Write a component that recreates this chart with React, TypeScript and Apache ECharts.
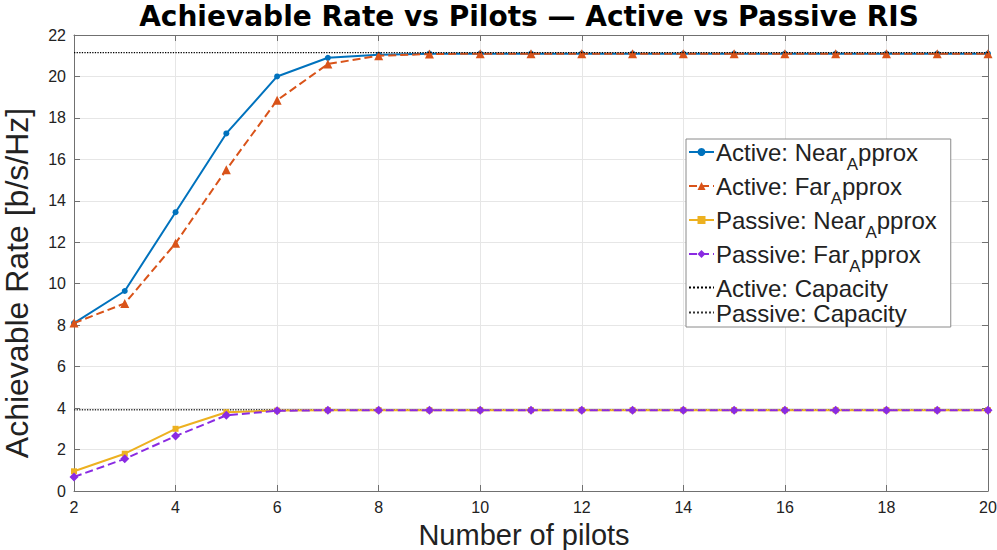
import React, { useEffect, useRef } from "react";
import * as echarts from "echarts";

const pilots = [2, 3, 4, 5, 6, 7, 8, 9, 10, 11, 12, 13, 14, 15, 16, 17, 18, 19, 20];
const activeNear = [8.1, 9.65, 13.45, 17.25, 20.0, 20.9, 21.05, 21.1, 21.1, 21.1, 21.1, 21.1, 21.1, 21.1, 21.1, 21.1, 21.1, 21.1, 21.1];
const activeFar = [8.1, 9.05, 11.95, 15.5, 18.85, 20.6, 21.0, 21.08, 21.1, 21.1, 21.1, 21.1, 21.1, 21.1, 21.1, 21.1, 21.1, 21.1, 21.1];
const passiveNear = [0.95, 1.8, 3.0, 3.8, 3.88, 3.9, 3.9, 3.9, 3.9, 3.9, 3.9, 3.9, 3.9, 3.9, 3.9, 3.9, 3.9, 3.9, 3.9];
const passiveFar = [0.68, 1.55, 2.65, 3.65, 3.87, 3.9, 3.9, 3.9, 3.9, 3.9, 3.9, 3.9, 3.9, 3.9, 3.9, 3.9, 3.9, 3.9, 3.9];
const activeCapacity = 21.15;
const passiveCapacity = 3.92;
const capX = [2, 20];

const FONT = "Liberation Sans";

export default function App() {
  const ref = useRef<HTMLDivElement>(null);
  useEffect(() => {
    const chart = echarts.init(ref.current!, undefined, { renderer: "svg" });
    const pair = (ys: number[]) => pilots.map((x, i) => [x, ys[i]]);
    const axisColor = "#707070";
    const baseX = {
      type: "value",
      min: 2,
      max: 20,
      interval: 2,
      axisLine: { show: true, onZero: false, lineStyle: { color: axisColor, width: 1 } },
      axisTick: { show: true, inside: true, length: 6, lineStyle: { color: axisColor } },
      splitLine: { show: false },
    };
    const baseY = {
      type: "value",
      min: 0,
      max: 22,
      interval: 2,
      axisLine: { show: true, onZero: false, lineStyle: { color: axisColor, width: 1 } },
      axisTick: { show: true, inside: true, length: 6, lineStyle: { color: axisColor } },
      splitLine: { show: false },
    };
    const option: any = {
      animation: false,
      backgroundColor: "#fff",
      textStyle: { fontFamily: FONT },
      title: {
        text: "Achievable Rate vs Pilots — Active vs Passive RIS",
        left: 529,
        textAlign: "center",
        top: 1,
        padding: 0,
        textStyle: { fontFamily: "DejaVu Sans", fontSize: 28, lineHeight: 30, fontWeight: "bold", color: "#000" },
      },
      grid: { left: 74, right: 9, top: 35, bottom: 59, outerBoundsMode: "none", containLabel: false },
      legend: {
        orient: "vertical",
        left: 686,
        top: 139,
        backgroundColor: "#fff",
        borderColor: "#8a8a8a",
        borderWidth: 1,
        borderRadius: 0,
        padding: [1, 14, 2, 2],
        itemGap: 1,
        itemWidth: 25,
        itemHeight: 10,
        data: [
          { name: "Active: Near_Approx" },
          { name: "Active: Far_Approx" },
          { name: "Passive: Near_Approx" },
          { name: "Passive: Far_Approx" },
          { name: "Active: Capacity", itemStyle: { opacity: 0 } },
          { name: "Passive: Capacity", itemStyle: { opacity: 0 } },
        ],
        formatter: (name: string) => {
          if (name.indexOf("_A") >= 0) {
            const [a, b] = name.split("_A");
            return "{n|" + a + "}{s|A}{n|" + b + "}";
          }
          return "{c|" + name + "}";
        },
        textStyle: {
          fontFamily: FONT,
          fontSize: 24,
          color: "#222",
          padding: [0, 0, 0, -3],
          rich: {
            n: { fontFamily: FONT, fontSize: 24, color: "#222", verticalAlign: "top" },
            s: { fontFamily: FONT, fontSize: 17, color: "#222", lineHeight: 17, verticalAlign: "top", padding: [16, 0, 0, 0] },
            c: { fontFamily: FONT, fontSize: 24, color: "#222", padding: [3, 0, 2, 0] },
          },
        },
      },
      xAxis: [
        {
          ...baseX,
          position: "bottom",
          name: "Number of pilots",
          nameLocation: "middle",
          nameGap: 29,
          nameTextStyle: { fontFamily: FONT, fontSize: 29, color: "#222", padding: [0, 14, 0, 0] },
          axisLabel: { fontFamily: FONT, fontSize: 16, color: "#222", margin: 8 },
          splitLine: { show: true, lineStyle: { color: "#e6e6e6", width: 1 } },
        },
        { ...baseX, position: "top", axisLabel: { show: false } },
      ],
      yAxis: [
        {
          ...baseY,
          position: "left",
          name: "Achievable Rate [b/s/Hz]",
          nameLocation: "middle",
          nameGap: 41,
          nameTextStyle: { fontFamily: FONT, fontSize: 32, color: "#222", padding: [0, 40, 0, 0] },
          axisLabel: { fontFamily: FONT, fontSize: 16, color: "#222", margin: 8 },
          splitLine: { show: true, lineStyle: { color: "#e6e6e6", width: 1 } },
        },
        { ...baseY, position: "right", axisLabel: { show: false } },
      ],
      series: [
        {
          name: "Active: Near_Approx",
          type: "line",
          data: pair(activeNear),
          color: "#0072BD",
          symbol: "circle",
          symbolSize: 6,
          lineStyle: { width: 2, color: "#0072BD" },
          itemStyle: { color: "#0072BD" },
          z: 3,
        },
        {
          name: "Active: Far_Approx",
          type: "line",
          data: pair(activeFar),
          color: "#D95319",
          symbol: "triangle",
          symbolSize: 9,
          lineStyle: { width: 2, type: "dashed", color: "#D95319" },
          itemStyle: { color: "#D95319" },
          z: 4,
        },
        {
          name: "Passive: Near_Approx",
          type: "line",
          data: pair(passiveNear),
          color: "#EDB120",
          symbol: "rect",
          symbolSize: 6,
          lineStyle: { width: 2, color: "#EDB120" },
          itemStyle: { color: "#EDB120" },
          z: 3,
        },
        {
          name: "Passive: Far_Approx",
          type: "line",
          data: pair(passiveFar),
          color: "#8A2BE2",
          symbol: "diamond",
          symbolSize: 9,
          lineStyle: { width: 2, type: "dashed", color: "#8A2BE2" },
          itemStyle: { color: "#8A2BE2" },
          z: 4,
        },
        {
          name: "Active: Capacity",
          type: "line",
          data: capX.map((x) => [x, activeCapacity]),
          color: "#000",
          symbol: "none",
          lineStyle: { width: 1.3, type: "dotted", color: "#000" },
          z: 5,
        },
        {
          name: "Passive: Capacity",
          type: "line",
          data: capX.map((x) => [x, passiveCapacity]),
          color: "#333",
          symbol: "none",
          lineStyle: { width: 1.3, type: "dotted", color: "#333" },
          z: 2,
        },
      ],
    };
    chart.setOption(option);
    return () => chart.dispose();
  }, []);
  return <div ref={ref} style={{ width: 997, height: 550, position: "absolute", left: 0, top: 0 }} />;
}
